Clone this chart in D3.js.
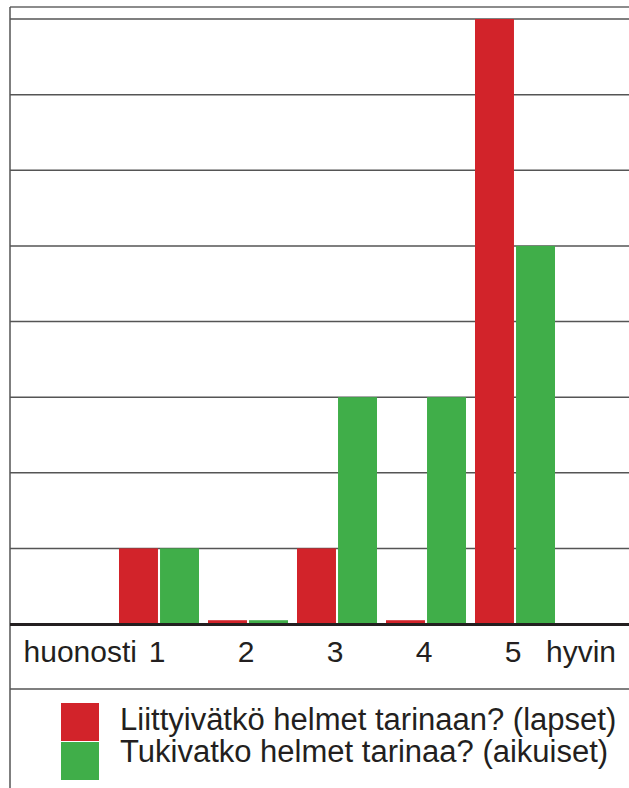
<!DOCTYPE html>
<html>
<head>
<meta charset="utf-8">
<script src="https://cdn.jsdelivr.net/npm/d3@7"></script>
<style>
  body { margin: 0; background: #fff; }
  text { font-family: "Liberation Sans", sans-serif; fill: #231f20; }
</style>
</head>
<body>
<svg id="chart"></svg>
<script>
// data
var categories = ["1", "2", "3", "4", "5"];
var series = ["Liittyivätkö helmet tarinaan? (lapset)", "Tukivatko helmet tarinaa? (aikuiset)"];
var lapset = [1, 0.05, 1, 0.05, 8];
var aikuiset = [1, 0.05, 3, 3, 5];
var gridTicks = [0, 1, 2, 3, 4, 5, 6, 7, 8];
var colors = ["#d2232a", "#40ae49"];

var W = 629, H = 788;
var svg = d3.select("#chart").attr("width", W).attr("height", H);

var x0 = d3.scaleBand()
  .domain(categories)
  .range([114.5, 559.5])
  .paddingInner(0.101)
  .paddingOuter(0.0505);

var x1 = d3.scaleBand()
  .domain(series)
  .range([0, x0.bandwidth()])
  .paddingInner(0.05);

var y = d3.scaleLinear().domain([0, 8]).range([624, 19]);

// frame
svg.append("line").attr("x1", 10).attr("x2", W).attr("y1", 7).attr("y2", 7)
  .style("stroke", "#666").style("stroke-width", 1.5);
svg.append("line").attr("x1", 10).attr("x2", 10).attr("y1", 7).attr("y2", H)
  .style("stroke", "#555").style("stroke-width", 1.5);
svg.append("line").attr("x1", 10).attr("x2", W).attr("y1", 689).attr("y2", 689)
  .style("stroke", "#555").style("stroke-width", 1.5);

// gridlines
svg.selectAll("grid")
  .data(gridTicks.slice(1))
  .enter().append("line")
  .attr("x1", 10).attr("x2", W)
  .attr("y1", d => y(d)).attr("y2", d => y(d))
  .style("stroke", "#555").style("stroke-width", 1.5);

// bars
var rows = categories.map(function(c, i) {
  return { cat: c, vals: [lapset[i], aikuiset[i]] };
});

var groups = svg.selectAll("grp")
  .data(rows)
  .enter().append("g")
  .attr("transform", d => "translate(" + x0(d.cat) + ",0)");

groups.selectAll("rect")
  .data(d => d.vals.map((v, j) => ({ key: series[j], v: v, j: j })))
  .enter().append("rect")
  .attr("x", d => x1(d.key))
  .attr("width", x1.bandwidth())
  .attr("y", d => y(d.v))
  .attr("height", d => y(0) - y(d.v))
  .style("fill", d => colors[d.j]);

// baseline
svg.append("line").attr("x1", 10).attr("x2", W).attr("y1", y(0) + 0.5).attr("y2", y(0) + 0.5)
  .style("stroke", "#231f20").style("stroke-width", 3);

// x axis labels
var xAxis = svg.append("g")
  .attr("transform", "translate(-2," + 662 + ")")
  .call(d3.axisBottom(x0).tickSize(0).tickPadding(0));
xAxis.select(".domain").remove();
xAxis.selectAll("text")
  .attr("dy", 0)
  .style("font-size", "30px")
  .style("font-family", "'Liberation Sans', sans-serif")
  .style("fill", "#231f20");

svg.append("text")
  .attr("x", x0("1") + x0.bandwidth() / 2 - 22)
  .attr("y", 662)
  .style("text-anchor", "end")
  .style("font-size", "30px")
  .text("huonosti");

svg.append("text")
  .attr("x", x0("5") + x0.bandwidth() / 2 + 31)
  .attr("y", 662)
  .style("text-anchor", "start")
  .style("font-size", "30px")
  .text("hyvin");

// legend
var size = 38;
svg.selectAll("legsq")
  .data(series)
  .enter().append("rect")
  .attr("x", 61)
  .attr("y", (d, i) => 703 + i * (size + 1))
  .attr("width", size)
  .attr("height", size)
  .style("fill", (d, i) => colors[i]);

svg.selectAll("leglab")
  .data(series)
  .enter().append("text")
  .attr("x", 120)
  .attr("y", (d, i) => 730 + i * 32)
  .style("font-size", "31px")
  .text(d => d);
</script>
</body>
</html>
